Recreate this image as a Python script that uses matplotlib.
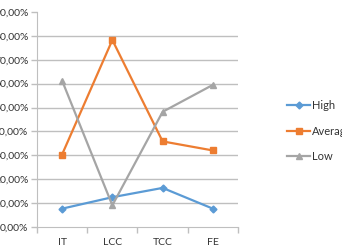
import matplotlib.pyplot as plt
from matplotlib.ticker import FuncFormatter

plt.rcParams['font.family'] = 'Lato'
plt.rcParams['font.size'] = 7.5

categories = ["IT", "LCC", "TCC", "FE"]
high = [0.076, 0.124, 0.163, 0.076]
average = [0.303, 0.783, 0.358, 0.320]
low = [0.613, 0.090, 0.482, 0.595]
labels = ["High", "Average", "Low"]

fig = plt.figure(figsize=(3.42, 2.52), dpi=100)
ax = fig.add_axes([0.108, 0.100, 0.588, 0.852])

x = list(range(len(categories)))
ax.plot(x, high, color='#5B9BD5', marker='D', markersize=3.5, linewidth=1.6, label=labels[0])
ax.plot(x, average, color='#ED7D31', marker='s', markersize=5, linewidth=1.6, label=labels[1])
ax.plot(x, low, color='#A5A5A5', marker='^', markersize=5, linewidth=1.6, label=labels[2])

ax.set_xlim(-0.5, 3.5)
ax.set_ylim(0, 0.9)
ax.set_yticks([i / 10 for i in range(10)])
ax.yaxis.set_major_formatter(FuncFormatter(lambda v, p: f"{v*100:.2f}%".replace('.', ',')))
for yv in [i / 10 for i in range(1, 9)]:
    ax.axhline(yv, color='#BFBFBF', linewidth=1, zorder=0)

ax.set_xticks([-0.5, 0.5, 1.5, 2.5, 3.5])
ax.set_xticklabels([])
ax.set_xticks(x, minor=True)
ax.set_xticklabels(categories, minor=True)
ax.tick_params(axis='x', which='major', length=4, color='#BFBFBF', width=1)
ax.tick_params(axis='x', which='minor', length=0, pad=8, colors='#333333')
ax.tick_params(axis='y', length=4, color='#BFBFBF', width=1, pad=2, colors='#333333')

for s in ['top', 'right']:
    ax.spines[s].set_visible(False)
ax.spines['left'].set_color('#BFBFBF')
ax.spines['bottom'].set_color('#BFBFBF')

fig.legend(loc='center left', bbox_to_anchor=(0.81, 0.48), frameon=False,
           handlelength=2.1, handletextpad=0.15, labelspacing=1.3, fontsize=8,
           labelcolor='#333333')

fig.savefig("out.png", dpi=100)
